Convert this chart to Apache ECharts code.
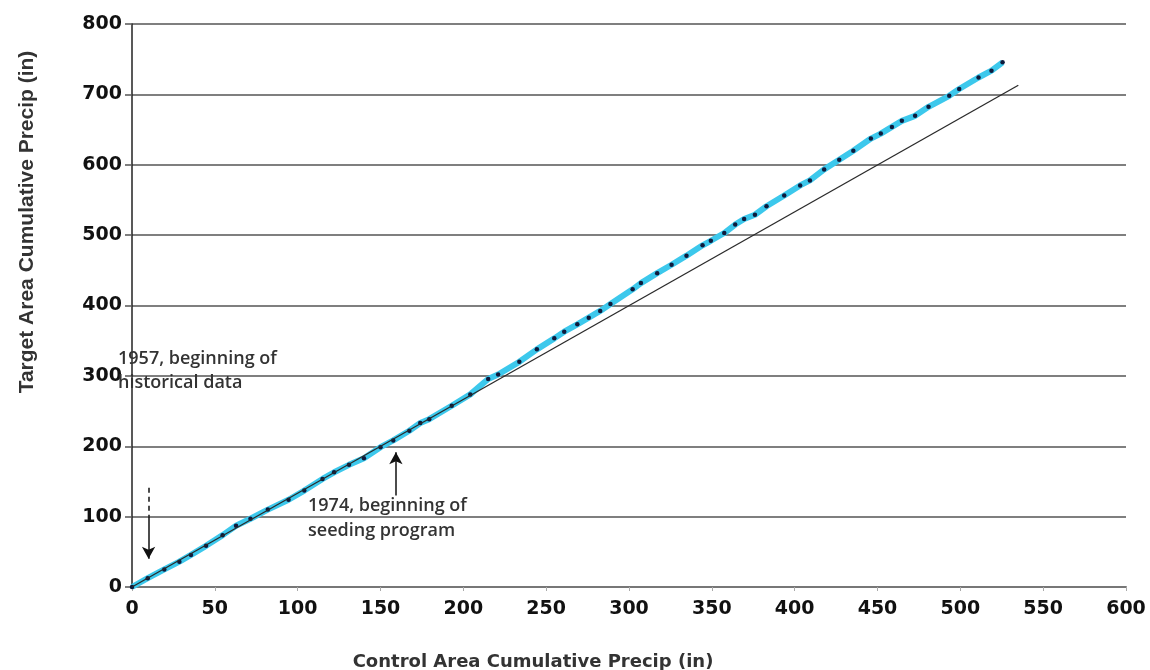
<!DOCTYPE html>
<html>
<head>
<meta charset="utf-8">
<script src="https://cdn.jsdelivr.net/npm/echarts@6/dist/echarts.min.js"></script>
<style>
html,body{margin:0;padding:0;background:#fff;}
#chart{width:1150px;height:670px;}
</style>
</head>
<body>
<div id="chart"></div>
<script>
// Cumulative precipitation (in), one point per year
const controlCum = [0, 9.5, 19.5, 28.6, 35.6, 44.7, 54.7, 62.8, 71.5, 82, 94.5, 104, 115, 122, 131, 140, 150, 157.7,
  167.4, 174, 179.4, 193, 204.2, 215, 221, 233.8, 244.4, 254.9, 260.9, 268.8, 275.7, 282.6, 288.8, 302.2, 307.2, 317,
  325.7, 334.7, 344.4, 349.4, 357.5, 364.1, 369.5, 376, 383, 393.7, 403.3, 409.2, 417.8, 426.9, 435.4, 446, 452, 458.7,
  464.7, 472.7, 480.8, 493.3, 499.3, 511, 518.8, 525.5];
const targetCum = [0, 12.5, 25, 36, 45.6, 58.5, 73.7, 87, 97, 110, 124, 137, 153.6, 163, 173.6, 183, 198.7, 208.3,
  222, 233, 238.5, 257.5, 273.7, 295.5, 302, 320, 337.7, 353.3, 362.8, 373.3, 382.7, 392.3, 402, 423, 431.8, 446,
  457.9, 470.8, 485.5, 492, 503, 515, 523, 529, 541, 556.3, 570.6, 577.7, 593.4, 607, 620, 637.2, 644.3, 653.8,
  662.4, 669.5, 682.3, 698, 707.6, 724, 733.7, 745.6];
// Pre-seeding relation line (control vs target)
const regControl = [0, 535];
const regTarget = [0, 713];
// Annotation arrows (data coordinates)
const arrow1957 = {x: 10, dashFrom: 141, dashTo: 100, to: 40};
const arrow1974 = {x: 159.3, from: 130, to: 191.6};
const annot1957 = '1957, beginning of\nhistorical data';
const annot1974 = '1974, beginning of\nseeding program';
const xTitle = 'Control Area Cumulative Precip (in)';
const yTitle = 'Target Area Cumulative Precip (in)';

const chart = echarts.init(document.getElementById('chart'));
const mainData = controlCum.map((x, i) => [x, targetCum[i]]);
const regData = regControl.map((x, i) => [x, regTarget[i]]);

chart.setOption({
  animation: false,
  backgroundColor: '#ffffff',
  grid: {left: 132, right: 24, top: 24, bottom: 83, containLabel: false},
  xAxis: {
    type: 'value', min: 0, max: 600, interval: 50,
    axisLine: {show: true, onZero: false, lineStyle: {color: '#777', width: 2}},
    axisTick: {show: true, length: 4, lineStyle: {color: '#aaa'}},
    splitLine: {show: false},
    axisLabel: {margin: 13, color: '#111', fontFamily: 'DejaVu Sans', fontWeight: 'bold', fontSize: 19}
  },
  yAxis: {
    type: 'value', min: 0, max: 800, interval: 100,
    axisLine: {show: true, onZero: false, lineStyle: {color: '#222', width: 1.5}},
    axisTick: {show: true, length: 7, lineStyle: {color: '#555', width: 1.5}},
    splitLine: {show: true, lineStyle: {color: '#555', width: 1.6}},
    axisLabel: {margin: 10, color: '#111', fontFamily: 'DejaVu Sans', fontWeight: 'bold', fontSize: 19}
  },
  series: [
    {
      type: 'line', data: mainData, z: 2,
      lineStyle: {color: '#3cc8ec', width: 6},
      symbol: 'circle', symbolSize: 4.5,
      itemStyle: {color: '#0e1a3c', borderWidth: 0},
      silent: true
    },
    {
      type: 'line', data: regData, z: 3,
      lineStyle: {color: '#2a2a2a', width: 1.3},
      symbol: 'none', silent: true,
      markLine: {
        silent: true, animation: false,
        label: {show: false},
        symbolSize: [10, 12],
        data: [
          [{coord: [arrow1957.x, arrow1957.dashFrom], symbol: 'none', lineStyle: {type: [5, 4], color: '#111', width: 1.5}},
           {coord: [arrow1957.x, arrow1957.dashTo], symbol: 'none'}],
          [{coord: [arrow1957.x, arrow1957.dashTo], symbol: 'none', lineStyle: {type: 'solid', color: '#111', width: 1.5}},
           {coord: [arrow1957.x, arrow1957.to], symbol: 'arrow'}],
          [{coord: [arrow1974.x, arrow1974.from], symbol: 'none', lineStyle: {type: 'solid', color: '#111', width: 1.5}},
           {coord: [arrow1974.x, arrow1974.to], symbol: 'arrow'}]
        ]
      }
    }
  ],
  graphic: [
    {type: 'text', x: 118, y: 347, z: 10, silent: true,
     style: {text: annot1957, font: '600 18px "Open Sans"', fill: '#333', lineHeight: 24}},
    {type: 'text', x: 308, y: 493, z: 10, silent: true,
     style: {text: annot1974, font: '600 18px "Open Sans"', fill: '#333', lineHeight: 25}},
    {type: 'text', x: 533, y: 662, z: 10, silent: true,
     style: {text: xTitle, font: 'bold 18px "DejaVu Sans"', fill: '#333', textAlign: 'center', textVerticalAlign: 'middle'}},
    {type: 'text', x: 27, y: 222, rotation: Math.PI / 2, z: 10, silent: true,
     style: {text: yTitle, font: 'bold 21px "Liberation Sans"', fill: '#333', textAlign: 'center', textVerticalAlign: 'middle'}}
  ]
});
</script>
</body>
</html>
